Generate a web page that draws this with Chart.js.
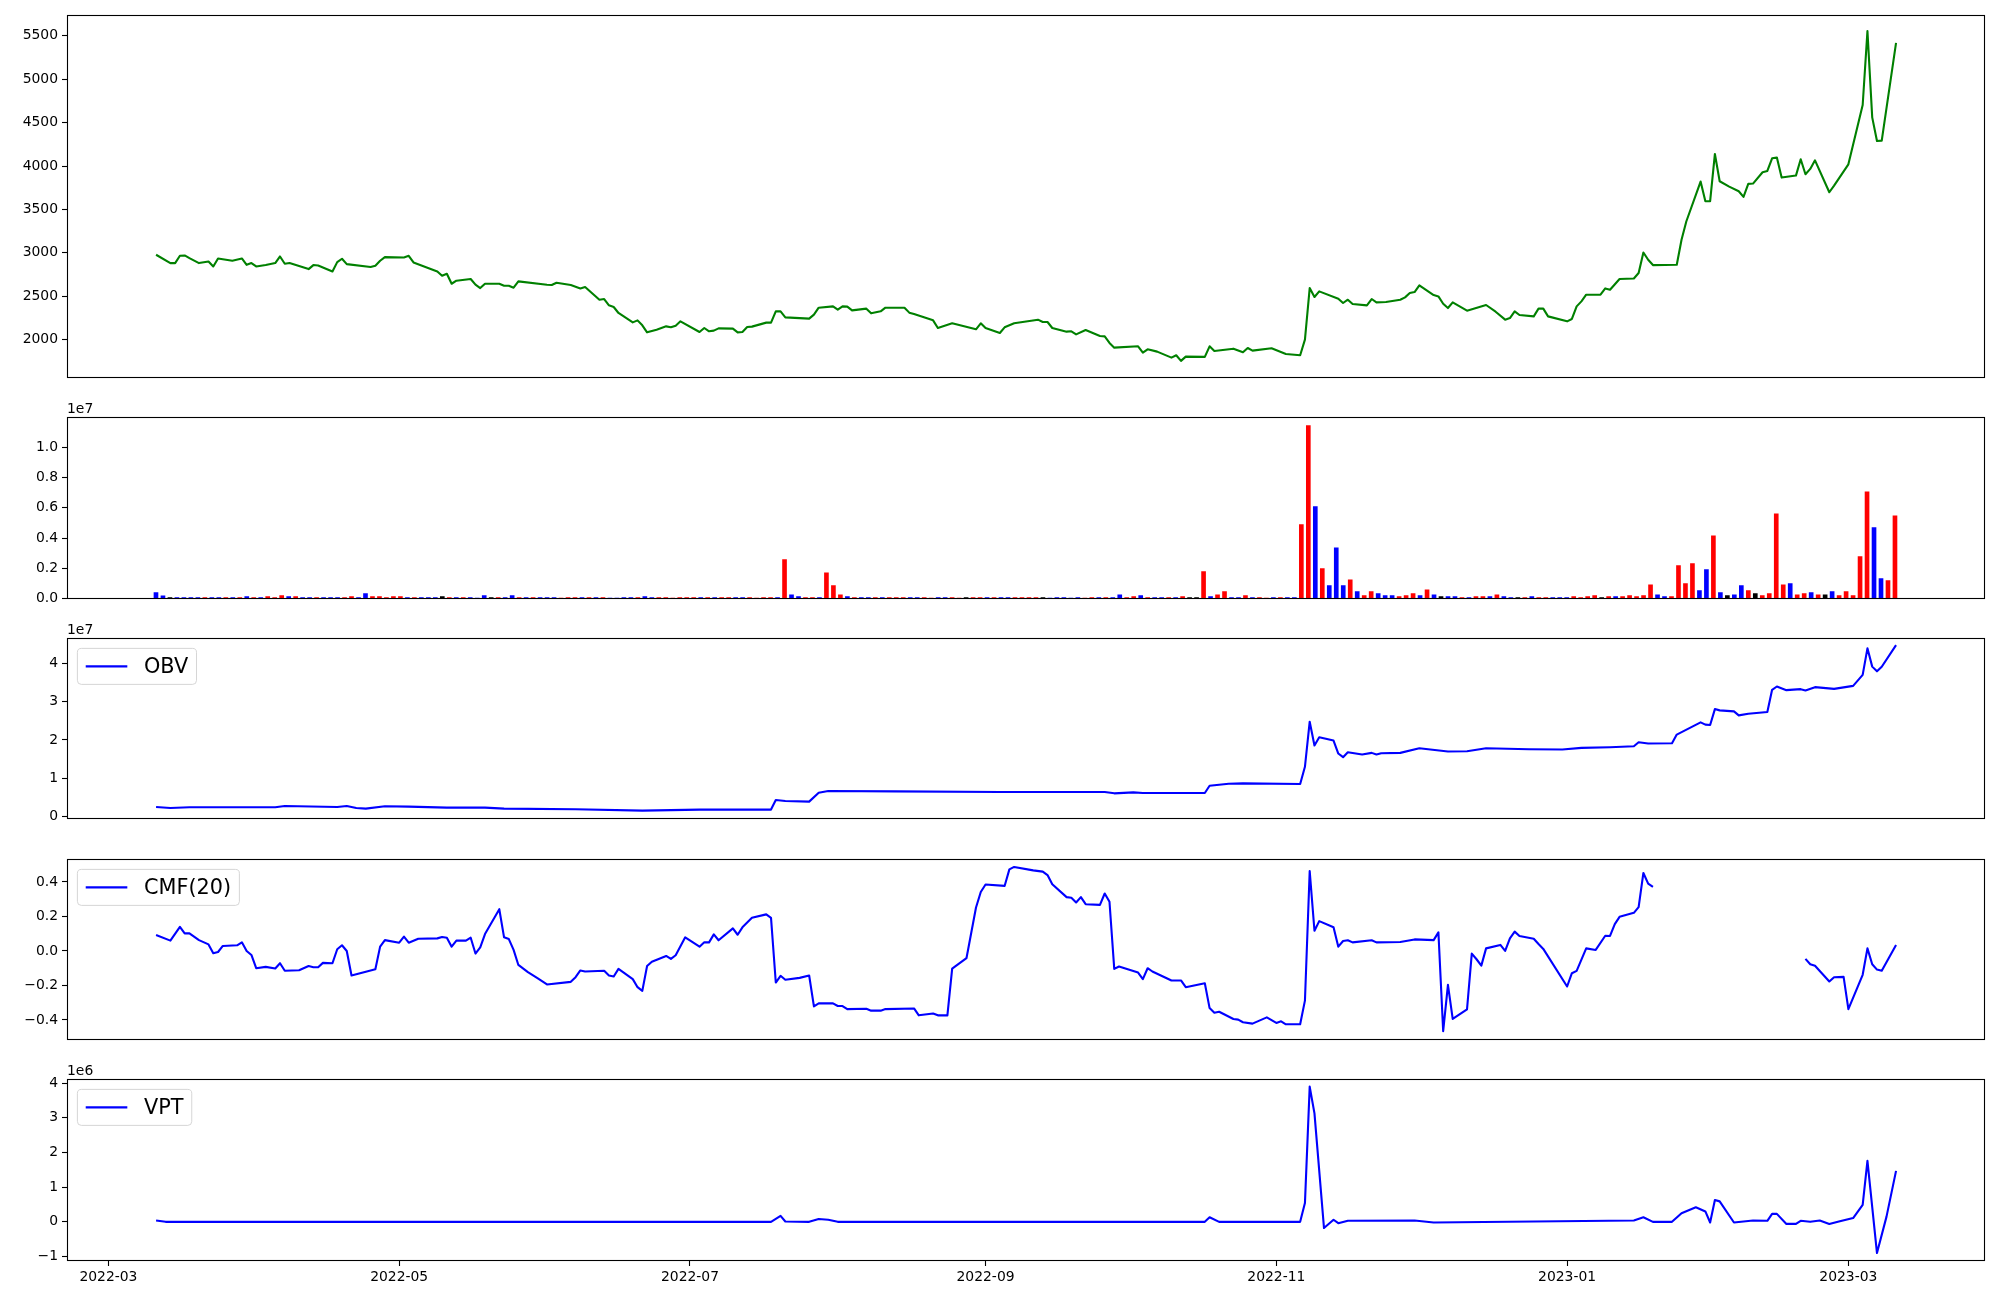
<!DOCTYPE html>
<html>
<head>
<meta charset="utf-8">
<title>Price / Volume / OBV / CMF / VPT</title>
<script src="https://cdn.jsdelivr.net/npm/chart.js@4.4.1/dist/chart.umd.min.js"></script>
<style>
  html, body { margin: 0; padding: 0; background: #ffffff; }
  #wrap { position: relative; width: 2000px; height: 1300px; overflow: hidden; }
  #wrap canvas { position: absolute; left: 0; }
</style>
</head>
<body>
<div id="wrap">
  <canvas id="pricePanel"></canvas>
  <canvas id="volPanel"></canvas>
  <canvas id="obvPanel"></canvas>
  <canvas id="cmfPanel"></canvas>
  <canvas id="vptPanel"></canvas>
</div>
<script>
// x values of the line panels are day offsets counted from 2022-03-01
const BASE = Date.UTC(2022, 2, 1);

const priceDay = [10,13,14,15,16,17,19,21,22,23,26,28,29,30,31,33,35,36,37,38,42,43,44,47,48,49,50,55,56,57,
  58,62,63,64,69,70,71,72,73,76,77,78,79,82,83,84,85,86,92,93,94,97,99,100,103,104,105,106,107,110,
  111,112,113,115,117,118,119,120,124,125,126,127,128,131,132,133,134,135,138,139,140,141,142,147,148,149,152,153,154,155,
  156,159,160,162,163,167,168,169,173,174,177,182,183,184,187,188,190,195,196,197,198,201,202,203,205,208,209,210,211,216,
  217,218,220,223,224,225,226,230,231,232,236,238,239,240,244,247,250,251,252,253,254,258,259,260,261,264,265,266,268,271,
  272,273,274,275,278,279,280,281,282,285,289,291,293,294,295,296,299,300,301,302,306,307,308,309,310,313,314,315,317,320,
  321,322,323,324,329,330,331,334,335,336,337,338,340,342,343,344,345,347,348,349,350,351,354,355,356,357,358,361,362,365,
  368,369,370,371,372,375];
const priceVal = [2978,2882,2882,2966,2970,2939,2882,2901,2843,2935,2908,2935,2862,2882,2843,2859,2882,2958,2874,2882,
  2813,2859,2855,2786,2893,2932,2870,2836,2851,2909,2951,2947,2966,2889,2786,2736,2759,2644,2679,2698,
  2633,2594,2644,2644,2621,2621,2598,2671,2633,2629,2655,2629,2590,2606,2460,2468,2395,2376,2307,2199,
  2222,2165,2084,2115,2153,2142,2161,2211,2088,2134,2096,2104,2130,2127,2084,2088,2146,2150,2196,2196,
  2326,2326,2257,2242,2288,2368,2383,2345,2383,2380,2337,2357,2303,2326,2368,2368,2311,2295,2222,2134,
  2188,2119,2188,2134,2077,2142,2188,2230,2203,2203,2134,2092,2096,2061,2111,2042,2038,1962,1908,1923,
  1850,1889,1862,1793,1820,1755,1804,1801,1923,1870,1896,1854,1904,1873,1900,1835,1820,2000,2594,2491,
  2556,2472,2422,2460,2410,2395,2468,2429,2433,2460,2487,2537,2548,2625,2514,2498,2414,2364,2429,2334,
  2399,2322,2230,2249,2326,2284,2268,2357,2357,2268,2211,2238,2383,2441,2518,2518,2590,2575,2698,2705,
  2767,3004,2920,2859,2863,3150,3361,3821,3595,3595,4139,3825,3763,3710,3645,3794,3798,3928,3944,4089,
  4097,3867,3890,4078,3905,3967,4066,3698,3775,4020,4703,5554,4561,4289,4293,5419];

// volume, one bar per trading session, in units of 1e4
const volume = [40,18,7,7,7,7,7,7,7,7, 7,7,7,13,7,7,13,7,20,13, 13,7,7,7,7,7,7,7,13,7, 33,13,13,7,13,13,7,7,7,7,
  7,13,7,7,7,7,1,20,7,7, 7,20,7,7,7,7,7,7,1,7, 7,7,7,7,7,1,1,7,7,7, 13,7,7,7,1,7,7,7,7,7,
  7,7,7,7,7,7,1,7,7,7, 257,26,13,7,7,7,171,86,26,13, 7,7,7,7,7,7,7,7,7,7, 7,1,7,7,7,1,7,7,7,7,
  7,7,7,7,7,7,7,7,1,7, 7,1,7,1,7,7,7,7,26,7, 13,20,7,7,7,7,7,13,7,7, 178,13,26,46,7,7,20,7,7,1,
  7,7,7,7,488,1141,607,198,86,336, 86,125,46,20,46,33,20,20,13,20, 33,20,59,26,13,13,13,7,7,13,
  13,13,26,13,7,7,7,13,7,7, 7,7,7,13,7,13,20,7,13,13, 13,20,13,20,92,26,13,13,218,99,
  231,53,191,415,40,20,26,86,53,33, 20,33,560,92,99,26,33,40,26,26, 46,20,46,20,277,705,468,132,119,547];
// 1 = up session, -1 = down session, 0 = unchanged
const volDir = [-1,-1,0,-1,-1,-1,-1,1,-1,-1, 1,-1,1,-1,1,-1,1,1,1,-1, 1,-1,-1,1,-1,-1,-1,1,1,-1, -1,1,1,1,1,1,-1,1,-1,-1,
  -1,0,1,-1,1,-1,-1,-1,0,1, -1,-1,1,-1,1,-1,-1,-1,1,1, 1,-1,1,-1,1,-1,-1,-1,-1,1, -1,-1,1,1,1,1,1,1,-1,1,
  -1,1,1,-1,-1,1,1,1,1,-1, 1,-1,-1,1,1,-1,1,1,1,-1, 1,-1,-1,1,-1,1,1,1,-1,-1, 1,1,-1,-1,1,1,0,1,1,-1,
  1,-1,-1,1,1,1,1,0,-1,-1, -1,-1,-1,1,1,-1,1,-1,-1,1, 1,-1,1,-1,-1,1,-1,1,0,0, 1,-1,1,1,-1,-1,1,-1,1,1,
  -1,1,-1,-1,1,1,-1,1,-1,-1, -1,1,-1,1,1,-1,-1,-1,1,1, 1,-1,1,-1,0,-1,-1,1,-1,1,
  1,-1,1,-1,-1,0,1,-1,1,1, -1,-1,-1,1,1,1,1,0,1,-1, 1,1,1,1,1,-1,-1,1,1,1,
  1,-1,-1,1,-1,0,-1,-1,1,0, 1,1,1,1,-1,1,1,-1,1,0, -1,1,1,1,1,1,-1,-1,1,1];

const obvDay = [10,13,17,35,37,48,50,52,54,58,63,71,79,83,98,112,124,139,140,142,147,149,151,165,187,209,211,215,217,230,
  231,235,238,250,251,252,253,254,257,258,259,260,263,265,266,267,271,275,281,285,289,298,305,309,315,320,321,323,328,329,
  334,335,336,337,338,341,342,344,348,349,350,352,355,356,358,362,366,368,369,370,371,372,375];
// OBV in units of 1e7
const obvVal = [0.251,0.225,0.242,0.242,0.277,0.251,0.277,0.225,0.208,0.268,0.26,0.234,0.234,0.208,0.19,0.156,0.182,0.182,0.433,0.407,
  0.39,0.623,0.667,0.658,0.64,0.64,0.606,0.632,0.615,0.615,0.805,0.857,0.866,0.848,1.299,2.476,1.853,2.069,1.983,1.645,
  1.55,1.68,1.619,1.662,1.619,1.654,1.662,1.784,1.697,1.706,1.784,1.758,1.749,1.792,1.81,1.835,1.939,1.905,1.913,2.139,
  2.459,2.398,2.39,2.805,2.771,2.745,2.641,2.684,2.727,3.307,3.394,3.299,3.325,3.29,3.377,3.333,3.411,3.697,4.39,3.913,
  3.79,3.91,4.476];

const cmfDay = [10,13,15,16,17,19,21,22,23,24,27,28,29,30,31,33,35,36,37,40,42,43,44,45,47,48,49,50,51,56,
  57,58,61,62,63,65,69,70,71,72,73,75,76,77,78,79,82,83,84,85,86,88,90,92,97,98,99,100,104,105,
  106,107,110,111,112,113,114,117,118,119,121,124,125,126,127,128,131,132,133,135,138,139,140,141,142,145,147,148,149,152,
  153,154,155,159,160,162,163,169,170,173,174,176,177,180,182,183,184,188,189,190,194,196,197,198,201,202,203,204,205,208,
  209,210,211,212,216,217,218,219,223,225,226,230,231,232,233,236,237,238,240,243,245,246,247,250,251,252,253,254,257,258,
  259,260,261,265,266,271,274,278,279,280,281,282,285,286,287,288,289,292,293,294,295,296,299,300,301,306,307,308,310,312,
  314,315,316,317,320,321,322,323,324,340,356,357,358,361,362,364,365,368,369,370,371,372,375];
const cmfVal = [0.092,0.06,0.14,0.102,0.102,0.063,0.038,-0.013,-0.006,0.029,0.033,0.05,0.0,-0.023,-0.1,-0.092,-0.102,-0.071,-0.115,-0.112,
  -0.087,-0.094,-0.094,-0.069,-0.071,0.01,0.033,0.0,-0.142,-0.106,0.025,0.063,0.048,0.083,0.048,0.071,0.073,0.081,0.077,0.025,
  0.06,0.06,0.077,-0.015,0.021,0.098,0.242,0.079,0.069,0.006,-0.081,-0.123,-0.158,-0.194,-0.179,-0.152,-0.113,-0.119,-0.115,-0.142,
  -0.148,-0.104,-0.163,-0.21,-0.231,-0.087,-0.062,-0.029,-0.046,-0.025,0.079,0.025,0.05,0.05,0.096,0.062,0.131,0.094,0.137,0.192,
  0.212,0.192,-0.183,-0.144,-0.167,-0.156,-0.142,-0.321,-0.304,-0.304,-0.319,-0.319,-0.337,-0.335,-0.346,-0.346,-0.337,-0.333,-0.373,-0.362,
  -0.373,-0.373,-0.102,-0.042,0.252,0.342,0.385,0.377,0.473,0.487,0.467,0.46,0.44,0.387,0.312,0.308,0.281,0.312,0.271,0.267,
  0.333,0.285,-0.104,-0.09,-0.125,-0.163,-0.1,-0.119,-0.171,-0.171,-0.21,-0.187,-0.331,-0.358,-0.352,-0.394,-0.398,-0.413,-0.421,-0.385,
  -0.417,-0.408,-0.425,-0.425,-0.288,0.463,0.117,0.173,0.137,0.025,0.058,0.062,0.05,0.062,0.05,0.052,0.067,0.063,0.108,-0.465,
  -0.196,-0.394,-0.338,-0.015,-0.048,-0.085,0.015,0.035,0.0,0.073,0.112,0.087,0.071,0.04,0.012,-0.206,-0.129,-0.115,0.015,0.006,
  0.088,0.087,0.156,0.198,0.221,0.254,0.452,0.39,0.371,null,-0.046,-0.077,-0.086,-0.177,-0.152,-0.15,-0.337,-0.138,0.015,-0.077,
  -0.108,-0.115,0.035];

const vptDay = [10,12,139,141,142,147,149,151,153,230,231,233,250,251,252,253,255,257,258,260,274,278,320,322,324,328,330,333,335,336,
  337,338,341,343,345,348,349,350,352,354,355,357,359,361,363,366,368,369,371,373,375];
// VPT in units of 1e6
const vptVal = [0.04,0.0,0.0,0.17,0.01,0.0,0.08,0.06,0.0,0.0,0.13,0.0,0.0,0.54,3.9,3.13,-0.18,0.06,-0.04,0.03,
  0.04,-0.02,0.04,0.13,0.0,0.0,0.25,0.42,0.3,-0.02,0.63,0.59,-0.02,0.01,0.04,0.03,0.23,0.23,-0.06,-0.06,
  0.03,0.0,0.04,-0.06,0.01,0.11,0.49,1.76,-0.9,0.15,1.47];

const dateTicks = ['2022-03-01','2022-05-01','2022-07-01','2022-09-01','2022-11-01','2023-01-01','2023-03-01'];
const priceTicks = [2000, 2500, 3000, 3500, 4000, 4500, 5000, 5500];
const volTicks = [0, 2e6, 4e6, 6e6, 8e6, 1e7];
const obvTicks = [0, 1e7, 2e7, 3e7, 4e7];
const cmfTicks = [-0.4, -0.2, 0, 0.2, 0.4];
const vptTicks = [-1e6, 0, 1e6, 2e6, 3e6, 4e6];

// ── helpers ───────────────────────────────────────
const FONT = "'DejaVu Sans', 'Liberation Sans', sans-serif";
Chart.defaults.font.family = FONT;
Chart.defaults.font.size = 13.9;
Chart.defaults.color = '#000';

const XMIN = -8.685, XMAX = 393.66;   // date axis range, in days
const VMIN = -12.74, VMAX = 261.89;   // volume axis range, in sessions

function dayOf(s) {
  const p = s.split('-').map(Number);
  return (Date.UTC(p[0], p[1] - 1, p[2]) - BASE) / 864e5;
}
function minus(s) { return String(s).replace('-', '\u2212'); }
function pts(days, vals, k) {
  return days.map((d, i) => ({ x: d, y: vals[i] == null ? null : vals[i] * k }));
}

const frame = {
  id: 'frame',
  afterDraw(chart) {
    const a = chart.chartArea, ctx = chart.ctx;
    ctx.save();
    ctx.strokeStyle = '#000';
    ctx.lineWidth = 1.1;
    ctx.strokeRect(Math.round(a.left) + 0.5, Math.round(a.top) + 0.5,
      Math.round(a.right - a.left) - 1, Math.round(a.bottom - a.top) - 1);
    ctx.restore();
  }
};

const offsetText = {
  id: 'offsetText',
  afterDraw(chart, args, opts) {
    if (!opts || !opts.text) return;
    const ctx = chart.ctx;
    ctx.save();
    ctx.font = '13.9px ' + FONT;
    ctx.fillStyle = '#000';
    ctx.textBaseline = 'alphabetic';
    ctx.fillText(opts.text, chart.chartArea.left, chart.chartArea.top - 4);
    ctx.restore();
  }
};

// legend drawn inside the axes, upper left
const mplLegend = {
  id: 'mplLegend',
  afterDatasetsDraw(chart, args, opts) {
    if (!opts || !opts.display) return;
    const ds = chart.data.datasets[0];
    const ctx = chart.ctx, a = chart.chartArea;
    const fs = 20.8;
    ctx.save();
    ctx.font = fs + 'px ' + FONT;
    const tw = ctx.measureText(ds.label).width;
    const pad = 0.4 * fs, hl = 2 * fs, gap = 0.8 * fs;
    const x = a.left + 0.5 * fs, y = a.top + 0.5 * fs;
    const w = pad + hl + gap + tw + pad, h = 36;
    ctx.beginPath();
    ctx.roundRect(x, y, w, h, 4);
    ctx.fillStyle = 'rgba(255,255,255,0.8)';
    ctx.fill();
    ctx.strokeStyle = 'rgba(204,204,204,0.8)';
    ctx.lineWidth = 1;
    ctx.stroke();
    ctx.beginPath();
    ctx.moveTo(x + pad, y + h / 2);
    ctx.lineTo(x + pad + hl, y + h / 2);
    ctx.strokeStyle = ds.borderColor;
    ctx.lineWidth = 2.1;
    ctx.stroke();
    ctx.fillStyle = '#000';
    ctx.textBaseline = 'middle';
    ctx.fillText(ds.label, x + pad + hl + gap, y + h / 2 + 1);
    ctx.restore();
  }
};

function yAxis(ticks, fmt, min, max) {
  return {
    type: 'linear', min, max,
    afterFit: s => { s.width = 67; },
    afterBuildTicks: s => { s.ticks = ticks.map(v => ({ value: v })); },
    grid: { drawOnChartArea: false, drawTicks: true, tickLength: 5, tickColor: '#000', tickWidth: 1.1 },
    border: { display: false },
    ticks: { callback: fmt, padding: 4, autoSkip: false },
  };
}

function baseOptions(pad, xScale, yScale, plugins) {
  return {
    responsive: false,
    animation: false,
    layout: { padding: pad, autoPadding: false },
    scales: { x: xScale, y: yScale },
    plugins: Object.assign({ legend: { display: false }, tooltip: { enabled: false } }, plugins),
  };
}

function lineSet(label, data, color) {
  return {
    label, data,
    borderColor: color, borderWidth: 2.1, pointRadius: 0,
    tension: 0, spanGaps: false, fill: false,
    borderJoinStyle: 'round',
  };
}

function setup(id, top, height) {
  const cv = document.getElementById(id);
  cv.width = 2000;
  cv.height = height;
  cv.style.width = '2000px';
  cv.style.height = height + 'px';
  cv.style.top = top + 'px';
  return cv.getContext('2d');
}

const hiddenX = () => ({ type: 'linear', min: XMIN, max: XMAX, display: false });

// ── panels ────────────────────────────────────────

new Chart(setup('pricePanel', 0, 390), {
  type: 'line',
  data: { datasets: [lineSet('Close', pts(priceDay, priceVal, 1), '#008000')] },
  options: baseOptions({ left: 0, right: 15, top: 15, bottom: 12 }, hiddenX(),
    yAxis(priceTicks, v => String(v), 1562, 5740), {}),
  plugins: [frame],
});

new Chart(setup('volPanel', 397, 214), {
  type: 'bar',
  data: {
    datasets: [{
      label: 'Volume',
      data: volume.map((v, i) => ({ x: i, y: v * 1e4 })),
      backgroundColor: volDir.map(d => d > 0 ? '#ff0000' : d < 0 ? '#0000ff' : '#000000'),
      barThickness: 4,
      borderWidth: 0,
    }],
  },
  options: baseOptions({ left: 0, right: 15, top: 20, bottom: 12 },
    { type: 'linear', min: VMIN, max: VMAX, display: false, offset: false },
    yAxis(volTicks, v => (v / 1e7).toFixed(1), 0, 1.198e7),
    { offsetText: { text: '1e7' } }),
  plugins: [frame, offsetText],
});

new Chart(setup('obvPanel', 618, 213), {
  type: 'line',
  data: { datasets: [lineSet('OBV', pts(obvDay, obvVal, 1e7), '#0000ff')] },
  options: baseOptions({ left: 0, right: 15, top: 20, bottom: 12 }, hiddenX(),
    yAxis(obvTicks, v => String(Math.round(v / 1e7)), -0.055e7, 4.66e7),
    { offsetText: { text: '1e7' }, mplLegend: { display: true } }),
  plugins: [frame, offsetText, mplLegend],
});

new Chart(setup('cmfPanel', 839, 213), {
  type: 'line',
  data: { datasets: [lineSet('CMF(20)', pts(cmfDay, cmfVal, 1), '#0000ff')] },
  options: baseOptions({ left: 0, right: 15, top: 20, bottom: 12 }, hiddenX(),
    yAxis(cmfTicks, v => minus(v.toFixed(1)), -0.514, 0.533),
    { mplLegend: { display: true } }),
  plugins: [frame, mplLegend],
});

new Chart(setup('vptPanel', 1059, 241), {
  type: 'line',
  data: { datasets: [lineSet('VPT', pts(vptDay, vptVal, 1e6), '#0000ff')] },
  options: baseOptions({ left: 0, right: 15, top: 20, bottom: 0 },
    {
      type: 'linear', min: XMIN, max: XMAX,
      afterFit: s => { s.height = 39; },
      afterBuildTicks: s => { s.ticks = dateTicks.map(d => ({ value: dayOf(d) })); },
      grid: { drawOnChartArea: false, drawTicks: true, tickLength: 5, tickColor: '#000', tickWidth: 1.1 },
      border: { display: false },
      ticks: { callback: (v, i) => dateTicks[i].slice(0, 7), maxRotation: 0, autoSkip: false, padding: 3 },
    },
    yAxis(vptTicks, v => minus(String(Math.round(v / 1e6))), -1.13e6, 4.12e6),
    { offsetText: { text: '1e6' }, mplLegend: { display: true } }),
  plugins: [frame, offsetText, mplLegend],
});
</script>
</body>
</html>
